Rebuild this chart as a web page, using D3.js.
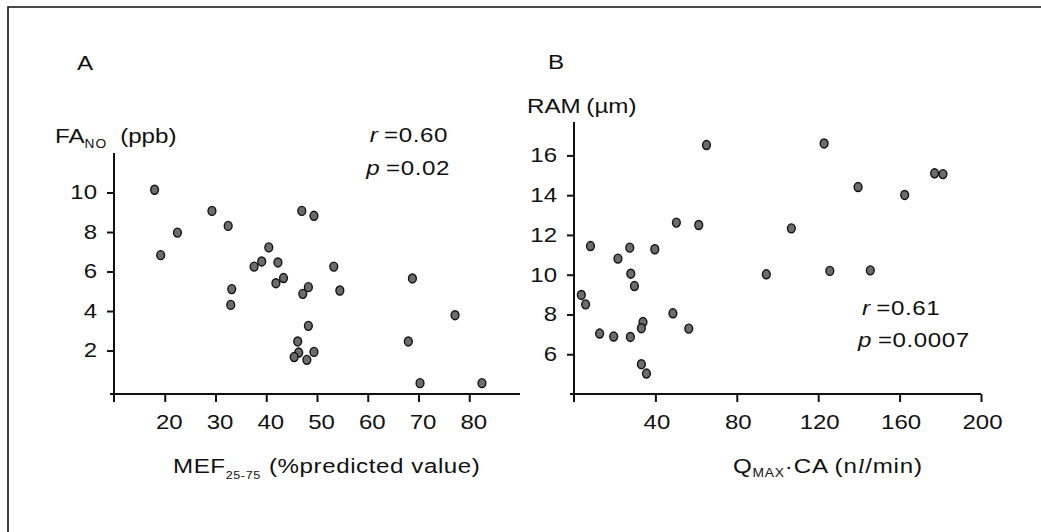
<!DOCTYPE html>
<html>
<head>
<meta charset="utf-8">
<script src="https://cdn.jsdelivr.net/npm/d3@7"></script>
<style>
  html, body { margin: 0; padding: 0; background: #fff; }
  svg { display: block; font-family: "Liberation Sans", Arial, Helvetica, sans-serif; }
  .axis path, .axis line { stroke: #111; stroke-width: 2; }
  .axis text { font-size: 20px; fill: #111; font-family: "Liberation Sans", Arial, sans-serif;
               transform-box: fill-box; transform: scaleX(1.2); }
  .xax text { transform-origin: center; }
  .yax text { transform-origin: right center; }
  .lbl { font-size: 21px; fill: #111; transform-box: fill-box; transform: scaleX(1.15); transform-origin: left center; }
  .lbl.end { transform-origin: right center; }
</style>
</head>
<body>
<div class="chart"></div>
<script>
// panel A: MEF25-75 vs FA_NO
const mefValues  = [18.0, 19.2, 22.5, 29.3, 32.5, 33.2, 33.0, 37.6, 39.1, 40.5, 42.3, 41.9, 43.4, 47.0, 49.4,
                    48.3, 47.2, 53.3, 54.5, 48.3, 46.2, 46.4, 45.5, 48.0, 49.4, 68.8, 68.0, 77.2, 70.3, 82.5];
const fanoValues = [10.14, 6.83, 7.97, 9.07, 8.31, 5.11, 4.31, 6.25, 6.51, 7.22, 6.46, 5.41, 5.67, 9.07, 8.82,
                    5.21, 4.87, 6.25, 5.04, 3.25, 2.46, 1.90, 1.67, 1.53, 1.93, 5.65, 2.46, 3.79, 0.35, 0.35];
const xTicksA = [20, 30, 40, 50, 60, 70, 80];
const yTicksA = [2, 4, 6, 8, 10];

// panel B: QMAX.CA vs RAM
const qmaxValues = [3.6, 5.7, 8.1, 12.6, 19.5, 21.6, 27.4, 27.9, 29.7, 27.7, 33.9, 33.1, 33.1, 35.6, 39.7,
                    50.3, 48.6, 56.4, 61.3, 65.1, 94.5, 106.8, 122.9, 125.7, 139.6, 145.6, 162.5, 177.2, 181.3];
const ramValues  = [8.98, 8.51, 11.44, 7.04, 6.89, 10.81, 11.36, 10.05, 9.43, 6.87, 7.62, 7.31, 5.50, 5.03, 11.28,
                    12.62, 8.06, 7.29, 12.50, 16.52, 10.02, 12.33, 16.60, 10.19, 14.41, 10.22, 14.01, 15.10, 15.06];
const xTicksB = [40, 80, 120, 160, 200];
const yTicksB = [6, 8, 10, 12, 14, 16];

const width = 1041, height = 532;

const svg = d3.select(".chart")
  .append("svg")
  .attr("width", width)
  .attr("height", height);

// outer frame (only top and left edges show)
svg.append("path")
  .attr("d", "M8,540 L8,7 L1050,7")
  .attr("fill", "none")
  .attr("stroke", "#111")
  .attr("stroke-width", 1.6);

function drawPanel(opt) {
  const x = d3.scaleLinear().domain(opt.xDomain).range(opt.xRange);
  const y = d3.scaleLinear().domain(opt.yDomain).range(opt.yRange);
  const g = svg.append("g");
  const y0 = opt.yRange[0];

  const xAxis = g.append("g")
    .attr("class", "axis xax")
    .attr("transform", "translate(0," + y0 + ")")
    .call(d3.axisBottom(x).tickValues(opt.xTicks).tickSize(8).tickSizeOuter(0).tickPadding(13));
  xAxis.select(".domain").attr("d", "M" + (opt.xRange[0] - 4) + ",0H" + opt.xRange[1]);
  xAxis.selectAll("text").attr("dx", opt.xLabelShift);

  const yAxis = g.append("g")
    .attr("class", "axis yax")
    .attr("transform", "translate(" + opt.xRange[0] + ",0)")
    .call(d3.axisLeft(y).tickValues(opt.yTicks).tickSize(7).tickSizeOuter(0).tickPadding(10));
  yAxis.select(".domain").attr("d", "M0," + opt.yRange[1] + "V" + (y0 + 8));

  g.selectAll("ellipse")
    .data(opt.xs.map(function(v, i) { return [v, opt.ys[i]]; }))
    .enter()
    .append("ellipse")
    .attr("cx", function(d) { return x(d[0]); })
    .attr("cy", function(d) { return y(d[1]); })
    .attr("rx", 3.9)
    .attr("ry", 4.5)
    .attr("fill", "#6c6c6c")
    .attr("stroke", "#111")
    .attr("stroke-width", 1.4);

  return g;
}

const gA = drawPanel({
  xs: mefValues, ys: fanoValues,
  xDomain: [10, 90], xRange: [114, 520],
  yDomain: [-0.2, 12], yRange: [394, 153],
  xTicks: xTicksA, yTicks: yTicksA, xLabelShift: 4
});

const gB = drawPanel({
  xs: qmaxValues, ys: ramValues,
  xDomain: [0, 200], xRange: [574, 981],
  yDomain: [4, 17.68], yRange: [394, 122],
  xTicks: xTicksB, yTicks: yTicksB, xLabelShift: 1
});

// panel letters
svg.append("text").attr("class", "lbl").attr("x", 77).attr("y", 70).text("A");
svg.append("text").attr("class", "lbl").attr("x", 548).attr("y", 69).text("B");

// axis titles
let t = svg.append("text").attr("class", "lbl").attr("x", 55).attr("y", 143);
t.append("tspan").text("FA");
t.append("tspan").attr("dy", 5).style("font-size", "12px").style("letter-spacing", "1px").text("NO");
t.append("tspan").attr("dy", -5).attr("dx", 11).text("(ppb)");

t = svg.append("text").attr("class", "lbl").attr("x", 173).attr("y", 473).style("letter-spacing", "0.5px");
t.append("tspan").text("MEF");
t.append("tspan").attr("dy", 6).style("font-size", "11px").text("25-75");
t.append("tspan").attr("dy", -6).attr("dx", 7).text("(%predicted value)");

t = svg.append("text").attr("class", "lbl").attr("x", 527).attr("y", 113);
t.append("tspan").text("RAM");
t.append("tspan").attr("dx", 5).text("(\u00b5m)");

t = svg.append("text").attr("class", "lbl").attr("x", 733).attr("y", 473).style("letter-spacing", "0.7px");
t.append("tspan").text("Q");
t.append("tspan").attr("dy", 4).style("font-size", "12px").text("MAX");
t.append("tspan").attr("dy", -4).text("\u00b7CA");
t.append("tspan").attr("dx", 5).text("(n");
t.append("tspan").style("font-style", "italic").style("font-family", "'Liberation Serif', serif").text("l");
t.append("tspan").text("/min)");

// correlation notes
function note(xPos, yPos, letter, rest, anchor) {
  const n = svg.append("text")
    .attr("class", anchor === "end" ? "lbl end" : "lbl")
    .attr("x", xPos).attr("y", yPos)
    .attr("text-anchor", anchor).style("letter-spacing", "0.5px");
  n.append("tspan").style("font-style", "italic").text(letter);
  n.append("tspan").attr("dx", 5).text("=" + rest);
}
note(448, 142, "r", "0.60", "end");
note(450, 175, "p", "0.02", "end");
note(862, 315, "r", "0.61", "start");
note(858, 347, "p", "0.0007", "start");
</script>
</body>
</html>
